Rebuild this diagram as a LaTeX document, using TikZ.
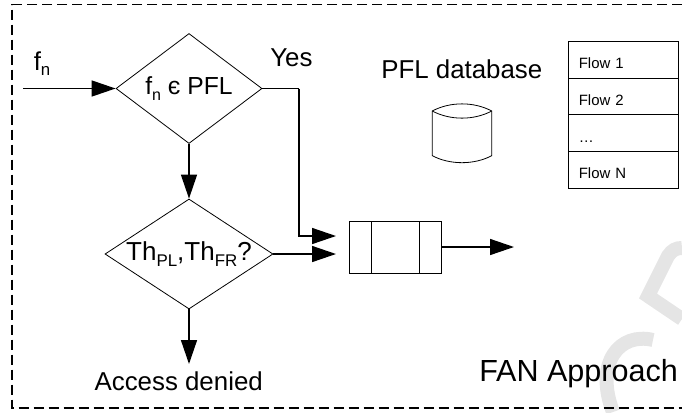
\documentclass[tikz,border=0pt]{standalone}
\usepackage{fontspec}
\setmainfont{Liberation Sans}
\usetikzlibrary{shapes.geometric,arrows.meta}
\newcommand{\subtxt}[1]{\raisebox{-0.22em}{\fontsize{0.65em}{0.65em}\selectfont #1}}
\begin{document}
\begin{tikzpicture}[x=0.75pt,y=-0.75pt]
    \tikzset{
        frame_line/.style={line width=1pt,dash pattern=on 7.5pt off 3.75pt},
        decision/.style={draw,shape=diamond,inner sep=0pt,line width=0.6pt},
        flow_arrow/.style={line width=1.1pt,-{Triangle[length=18pt,width=12pt]}},
        flow_line/.style={line width=1.1pt},
        flow_row/.style={draw,line width=0.6pt,inner ysep=0pt,inner xsep=7.9pt,text width=67pt,align=left,text height=20.6pt,text depth=6.9pt,font=\fontsize{11.2pt}{12pt}\selectfont},
        big_text/.style={font=\fontsize{19.4pt}{22pt}\selectfont,inner sep=0pt},
        queue_box/.style={draw,line width=0.6pt,minimum width=69pt,minimum height=39pt,inner sep=0pt},
        mark_line/.style={line width=10.5pt,color=black!10}
    }
    \useasboundingbox (0,0) rectangle (682,412);

    % watermark
    \draw[mark_line] (682,248) .. controls (676,248) and (672,250) .. (668,256) -- (648,296) -- (682,319);
    \draw[mark_line] (653,340) .. controls (620,332) and (594,362) .. (613,412);

    \draw[frame_line] (682,4.5) -- (12,4.5) -- (12,408) -- (682,408);

    \node[decision,minimum width=109.5pt,minimum height=82.5pt,aspect=1.327,font=\fontsize{18.5pt}{20pt}\selectfont] (member) at (189,88.5) {f\subtxt{n} є PFL};
    \node[decision,minimum width=126pt,minimum height=82.5pt,aspect=1.527,font=\fontsize{19.5pt}{20pt}\selectfont] (limit) at (189,254) {Th\subtxt{PL},Th\subtxt{FR}?};
    \node[queue_box] (queue) at (395.3,247) {};
    \draw[line width=0.6pt] (371.3,221) -- (371.3,273);
    \draw[line width=0.6pt] (419.3,221) -- (419.3,273);

    \coordinate (input) at (23,88.5);
    \coordinate (output) at (514,247);
    \coordinate (turn) at (299,88.5);
    \coordinate (merge) at (336,236);
    \coordinate (join) at (336,254);
    \coordinate (refuse) at (189,364);

    \node[big_text,anchor=base west] (fn) at (33.5,70) {f\subtxt{n}};
    \node[big_text,anchor=base west] (yes) at (270,66.7) {Yes};
    \node[big_text,anchor=base west] (pfl) at (381,78) {PFL database};
    \node[big_text,anchor=base] (denied) at (178.7,390) {Access denied};
    \node[big_text,anchor=base west,font=\fontsize{22.9pt}{25pt}\selectfont] (approach) at (479,381.5) {FAN Approach};

    % flow list
    \foreach \y/\t [count=\i] in {59.7/Flow 1,96.4/Flow 2,133.1/…,169.8/Flow N}
        \node[flow_row] (row\i) at (623.5,\y) {\t};

    % database
    \draw[line width=0.6pt] (432.3,111) .. controls (450,101.5) and (474,101.5) .. (491.7,111)
        -- (491.7,155.7) .. controls (474,165) and (450,165) .. (432.3,155.7) -- cycle;
    \draw[line width=0.6pt] (432.3,111) .. controls (450,120.5) and (474,120.5) .. (491.7,111);

    \draw[flow_arrow] (input) -- (member.west);
    \draw[flow_line] (member.east) -- (turn);
    \draw[flow_arrow] (turn) |- (merge);
    \draw[flow_arrow] (member.south) -- (limit.north);
    \draw[flow_arrow] (limit.east) -- (join);
    \draw[flow_arrow] (limit.south) -- (refuse);
    \draw[flow_arrow] (queue.east) -- (output);
\end{tikzpicture}
\end{document}
